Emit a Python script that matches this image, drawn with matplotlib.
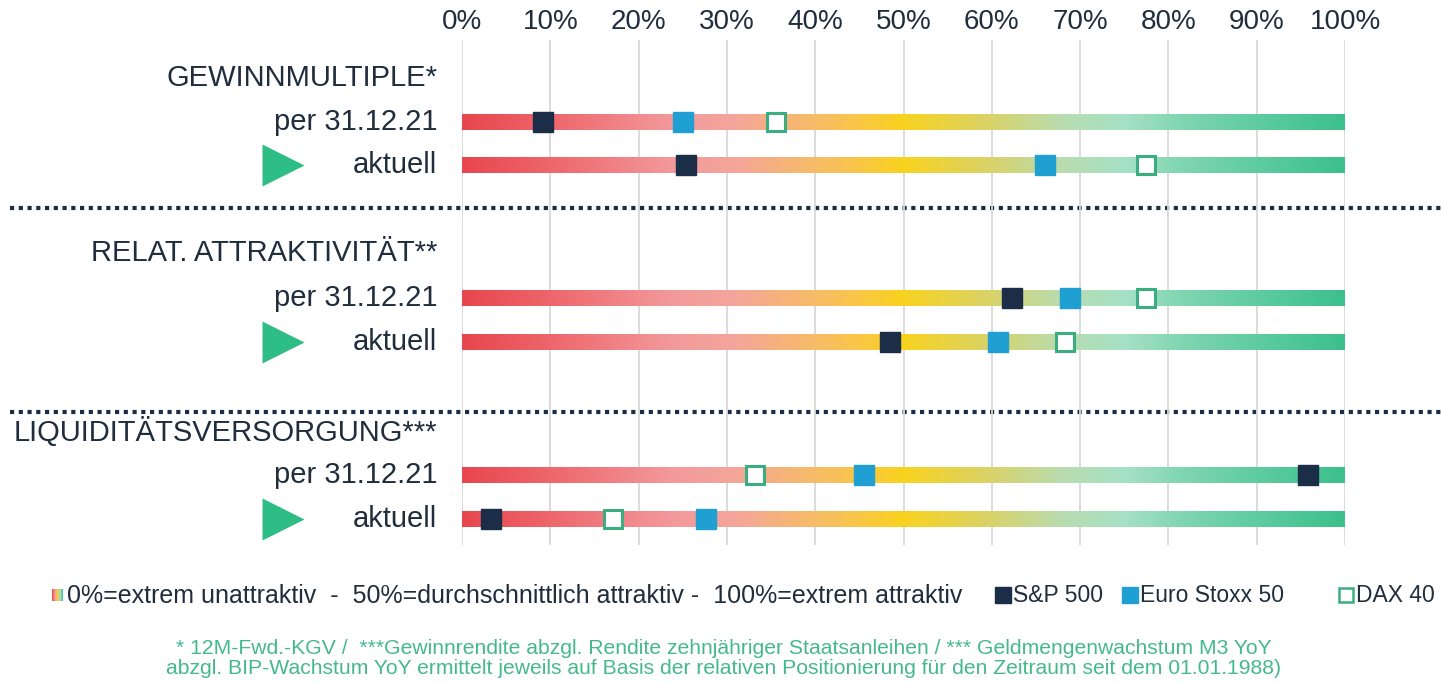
import matplotlib.pyplot as plt
import numpy as np
from matplotlib.colors import LinearSegmentedColormap

plt.rcParams['font.family'] = ['Liberation Sans', 'DejaVu Sans']

# data
groups = ["GEWINNMULTIPLE*", "RELAT. ATTRAKTIVITÄT**", "LIQUIDITÄTSVERSORGUNG***"]
row_labels = ["per 31.12.21", "aktuell"]
sp500 = [[9.2, 25.4], [62.3, 48.5], [95.8, 3.3]]
stoxx50 = [[25.0, 66.0], [68.9, 60.7], [45.5, 27.6]]
dax40 = [[35.6, 77.5], [77.5, 68.3], [33.2, 17.1]]
ticks = list(range(0, 101, 10))
tick_labels = [f"{t}%" for t in ticks]

legend_text = "0%=extrem unattraktiv  -  50%=durchschnittlich attraktiv -  100%=extrem attraktiv"
series_names = ["S&P 500", "Euro Stoxx 50", "DAX 40"]
footnote = ["* 12M-Fwd.-KGV /  ***Gewinnrendite abzgl. Rendite zehnjähriger Staatsanleihen / *** Geldmengenwachstum M3 YoY",
            "abzgl. BIP-Wachstum YoY ermittelt jeweils auf Basis der relativen Positionierung für den Zeitraum seit dem 01.01.1988)"]

# layout (pixel rows)
header_y = [78, 253, 432]
row_y = [[122, 165], [298, 342], [475, 519]]
sep_y = [208, 412]

navy = "#1b2d47"
blue = "#1f9fd2"
green = "#3aae80"
text_col = "#1f2d3d"

cmap = LinearSegmentedColormap.from_list("attr", [
    (0.0, "#e8464e"), (0.10, "#ed676c"), (0.24, "#f39a9c"), (0.31, "#f4a69a"),
    (0.36, "#f6b27c"), (0.42, "#f8c05c"), (0.50, "#f9d21e"), (0.60, "#d8d36a"),
    (0.68, "#b9dcaf"), (0.75, "#a6e1c6"), (0.82, "#7fd5b0"), (0.91, "#5ccb9f"),
    (1.0, "#3cc08c")])
grad = np.linspace(0, 1, 512).reshape(1, -1)

W, H = 1441, 683
fig = plt.figure(figsize=(W / 100, H / 100), dpi=100)

# overlay in pixel coordinates
bg = fig.add_axes([0, 0, 1, 1])
bg.set_xlim(0, W)
bg.set_ylim(H, 0)
bg.axis("off")

ax = fig.add_axes([462 / W, 0, 883 / W, 1])
ax.set_xlim(0, 100)
ax.set_ylim(H, 0)
ax.axis("off")

ax.vlines(ticks, 40, 545, color="#d9d9d9", lw=1.3, zorder=0)
for t, lab in zip(ticks, tick_labels):
    ax.text(t, 22, lab, ha="center", va="center", fontsize=20, color=text_col)

for s in sep_y:
    bg.plot([10, W], [s, s], color=navy, lw=3, ls=(0, (1, 1.1)), zorder=1)

for g in range(3):
    ax.text(-2.8, header_y[g], groups[g], ha="right", va="center",
            fontsize=21, color=text_col, clip_on=False)
    for r in range(2):
        y = row_y[g][r]
        ax.text(-2.8, y, row_labels[r], ha="right", va="center",
                fontsize=21, color=text_col, clip_on=False)
        if r == 1:
            ax.plot([-20.3], [y], marker=">", ms=30, color="#2ebd85",
                    mec="none", clip_on=False)
        ax.imshow(grad, cmap=cmap, aspect="auto", extent=[0, 100, y + 8, y - 8],
                  interpolation="bilinear", zorder=2)
        ax.plot(sp500[g][r], y, "s", ms=14.5, color=navy, mec=navy, zorder=4)
        ax.plot(stoxx50[g][r], y, "s", ms=14.5, color=blue, mec=blue, zorder=4)
        ax.plot(dax40[g][r], y, "s", ms=13, mfc="white", mec=green, mew=2.2, zorder=5)
ax.set_ylim(H, 0)

# legend
ic = fig.add_axes([52 / W, 1 - 601 / H, 10 / W, 12 / H])
ic.imshow(grad, cmap=cmap, aspect="auto", interpolation="bilinear")
ic.axis("off")
bg.text(67, 596, legend_text, ha="left", va="center", fontsize=18, color=text_col)
bg.plot(1003, 595, "s", ms=11.5, color=navy)
bg.text(1013, 596, series_names[0], ha="left", va="center", fontsize=16.5, color=text_col)
bg.plot(1130, 595, "s", ms=11.5, color=blue)
bg.text(1140, 596, series_names[1], ha="left", va="center", fontsize=16.5, color=text_col)
bg.plot(1346, 595, "s", ms=10.5, mfc="white", mec=green, mew=1.8)
bg.text(1356, 596, series_names[2], ha="left", va="center", fontsize=16.5, color=text_col)

bg.text(724, 648, footnote[0], ha="center", va="center", fontsize=15.2, color="#45b98c")
bg.text(724, 669, footnote[1], ha="center", va="center", fontsize=15.2, color="#45b98c")

fig.savefig("out.png", dpi=100)
